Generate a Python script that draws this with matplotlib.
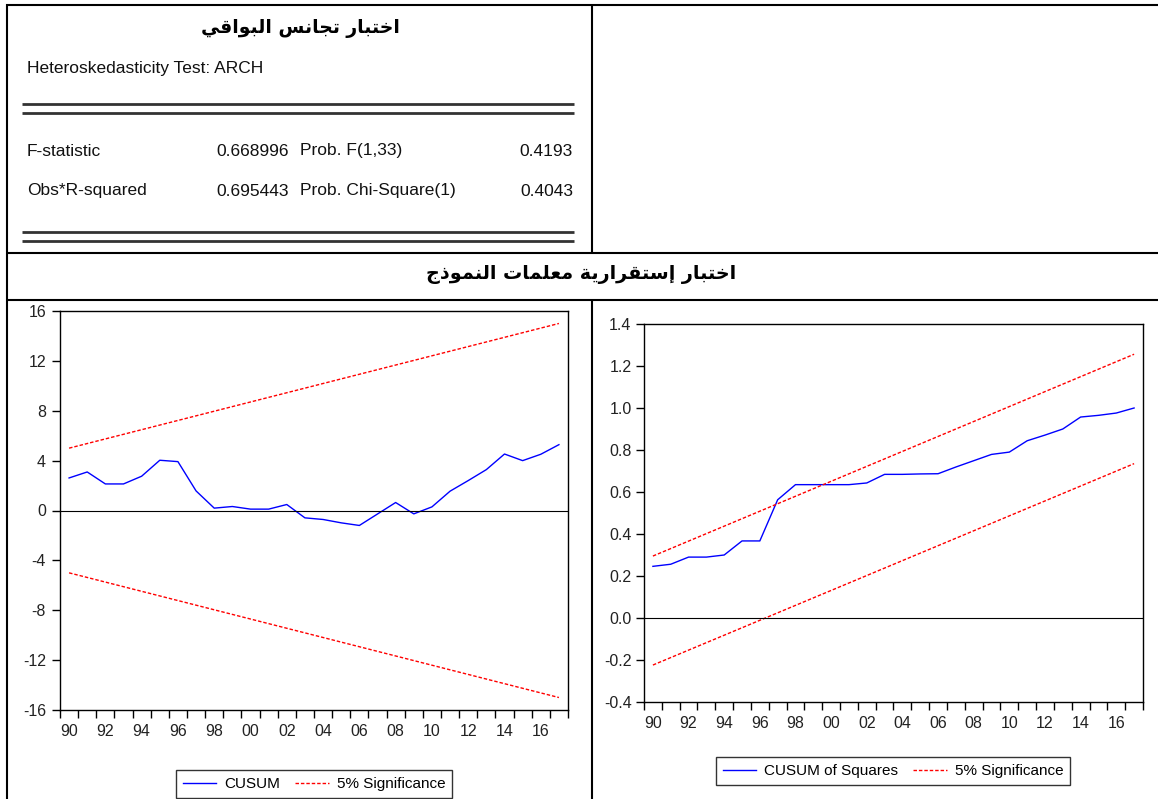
import numpy as np
import matplotlib.pyplot as plt
from matplotlib.lines import Line2D

W, H = 1158, 799

# ARCH test table
title_arch = "اختبار تجانس البواقي"
title_stab = "اختبار إستقرارية معلمات النموذج"
test_name = "Heteroskedasticity Test: ARCH"
stat_names = ["F-statistic", "Obs*R-squared"]
stat_values = ["0.668996", "0.695443"]
prob_names = ["Prob. F(1,33)", "Prob. Chi-Square(1)"]
prob_values = ["0.4193", "0.4043"]

# CUSUM
years = np.arange(1990, 2018)
cusum = [2.61, 3.09, 2.13, 2.13, 2.75, 4.03, 3.92, 1.57, 0.19, 0.32,
         0.11, 0.11, 0.48, -0.59, -0.72, -0.99, -1.2, -0.28, 0.64, -0.27,
         0.29, 1.55, 2.4, 3.28, 4.53, 4.0, 4.51, 5.28]
bound_years = [1990, 2017]
cusum_upper = [5.0, 15.0]
cusum_lower = [-5.0, -15.0]

# CUSUM of squares
cusumsq = [0.246, 0.256, 0.29, 0.29, 0.30, 0.367, 0.367, 0.563, 0.635, 0.635,
           0.635, 0.635, 0.643, 0.684, 0.684, 0.686, 0.687, 0.719, 0.749, 0.779,
           0.79, 0.844, 0.871, 0.90, 0.957, 0.965, 0.976, 1.0]
sq_upper = [0.295, 1.256]
sq_lower = [-0.224, 0.735]

# arabic presentation forms (matplotlib does no shaping)
FORMS = {
    'ا': ('\uFE8D', '\uFE8E'),
    'إ': ('\uFE87', '\uFE88'),
    'ب': ('\uFE8F', '\uFE90', '\uFE91', '\uFE92'),
    'ة': ('\uFE93', '\uFE94'),
    'ت': ('\uFE95', '\uFE96', '\uFE97', '\uFE98'),
    'ج': ('\uFE9D', '\uFE9E', '\uFE9F', '\uFEA0'),
    'خ': ('\uFEA5', '\uFEA6', '\uFEA7', '\uFEA8'),
    'ذ': ('\uFEAB', '\uFEAC'),
    'ر': ('\uFEAD', '\uFEAE'),
    'س': ('\uFEB1', '\uFEB2', '\uFEB3', '\uFEB4'),
    'ع': ('\uFEC9', '\uFECA', '\uFECB', '\uFECC'),
    'ق': ('\uFED5', '\uFED6', '\uFED7', '\uFED8'),
    'ل': ('\uFEDD', '\uFEDE', '\uFEDF', '\uFEE0'),
    'م': ('\uFEE1', '\uFEE2', '\uFEE3', '\uFEE4'),
    'ن': ('\uFEE5', '\uFEE6', '\uFEE7', '\uFEE8'),
    'و': ('\uFEED', '\uFEEE'),
    'ي': ('\uFEF1', '\uFEF2', '\uFEF3', '\uFEF4'),
}


def shape_word(w):
    out = []
    for i, ch in enumerate(w):
        f = FORMS[ch]
        prev = i > 0 and len(FORMS[w[i - 1]]) == 4
        nxt = i < len(w) - 1 and len(f) == 4
        if prev and nxt:
            out.append(f[3])
        elif prev:
            out.append(f[1])
        elif nxt:
            out.append(f[2])
        else:
            out.append(f[0])
    return ''.join(reversed(out))


def arabic(s):
    return ' '.join(shape_word(w) for w in reversed(s.split()))


def fx(x):
    return x / W


def fy(y):
    return 1 - y / H


SANS = ['Liberation Sans', 'DejaVu Sans']
AR = ['DejaVu Sans']

fig = plt.figure(figsize=(W / 100, H / 100), dpi=100)


def hline(y, x0, x1, lw=1.5, color='black'):
    fig.add_artist(Line2D([fx(x0), fx(x1)], [fy(y), fy(y)], lw=lw, color=color,
                          transform=fig.transFigure, solid_capstyle='butt'))


def vline(x, y0, y1, lw=1.5, color='black'):
    fig.add_artist(Line2D([fx(x), fx(x)], [fy(y0), fy(y1)], lw=lw, color=color,
                          transform=fig.transFigure, solid_capstyle='butt'))


# table frame
hline(5, 6, W)
hline(253, 6, W)
hline(300, 6, W)
vline(7, 4, H)
vline(592, 4, 253)
vline(592, 300, H)

# top-left: ARCH test output
fig.text(fx(300), fy(28), arabic(title_arch), family=AR, weight='bold',
         fontsize=13.5, ha='center', va='center')
fig.text(fx(27), fy(69), test_name, family=SANS, fontsize=12.5, va='center', color='#111111')
for y in (104, 113, 232, 241):
    hline(y, 22, 574, lw=2.0, color='#333333')
for i in range(2):
    y = fy(151 + 40 * i)
    kw = dict(family=SANS, fontsize=12.5, va='center', color='#111111')
    fig.text(fx(27), y, stat_names[i], **kw)
    fig.text(fx(289), y, stat_values[i], ha='right', **kw)
    fig.text(fx(300), y, prob_names[i], **kw)
    fig.text(fx(573), y, prob_values[i], ha='right', **kw)

fig.text(fx(581), fy(275), arabic(title_stab), family=AR, weight='bold',
         fontsize=13.8, ha='center', va='center')


def setup(ax, ylim, yticks, labels, ypad):
    ax.set_xlim(1989.5, 2017.5)
    ax.set_ylim(*ylim)
    ax.set_yticks(yticks)
    ax.set_yticklabels(labels, family=SANS, fontsize=11.5, color='#222222')
    xt = list(range(1990, 2017, 2))
    ax.set_xticks(xt)
    ax.set_xticklabels([f"{y % 100:02d}" for y in xt], family=SANS, fontsize=11.5, color='#222222')
    ax.set_xticks(np.arange(1989.5, 2018, 1), minor=True)
    ax.tick_params(axis='x', which='major', length=0, pad=10)
    ax.tick_params(axis='x', which='minor', length=6, direction='out', width=1)
    ax.tick_params(axis='y', length=6, direction='out', width=1, pad=ypad)
    ax.axhline(0, color='black', lw=0.8)
    for s in ax.spines.values():
        s.set_linewidth(1.0)


red_dash = (0, (2.5, 1.4))
leg_kw = dict(loc='center', bbox_transform=fig.transFigure, ncol=2, frameon=True,
              fancybox=False, edgecolor='#333333', framealpha=1,
              prop={'family': SANS, 'size': 11}, handlelength=2.2, columnspacing=1.0,
              borderpad=0.45, handletextpad=0.5)

# CUSUM chart
ax1 = fig.add_axes([fx(60), fy(710), (568 - 60) / W, (710 - 311) / H])
ax1.plot(years, cusum, color='#0000FF', lw=1.0, label='CUSUM')
ax1.plot(bound_years, cusum_upper, color='#FF0000', lw=1.0, ls=red_dash, label='5% Significance')
ax1.plot(bound_years, cusum_lower, color='#FF0000', lw=1.0, ls=red_dash)
yt = list(range(-16, 17, 4))
setup(ax1, (-16, 16), yt, [str(v) for v in yt], 4)
ax1.legend(bbox_to_anchor=(fx(314), fy(784)), **leg_kw)

# CUSUM of squares chart
ax2 = fig.add_axes([fx(644), fy(702), (1143 - 644) / W, (702 - 324) / H])
ax2.plot(years, cusumsq, color='#0000FF', lw=1.0, label='CUSUM of Squares')
ax2.plot(bound_years, sq_upper, color='#FF0000', lw=1.0, ls=red_dash, label='5% Significance')
ax2.plot(bound_years, sq_lower, color='#FF0000', lw=1.0, ls=red_dash)
yt2 = [-0.4, -0.2, 0.0, 0.2, 0.4, 0.6, 0.8, 1.0, 1.2, 1.4]
setup(ax2, (-0.4, 1.4), yt2, [f"{v:.1f}" for v in yt2], 3)
ax2.legend(bbox_to_anchor=(fx(893), fy(771)), **leg_kw)

fig.savefig('out.png', dpi=100)
